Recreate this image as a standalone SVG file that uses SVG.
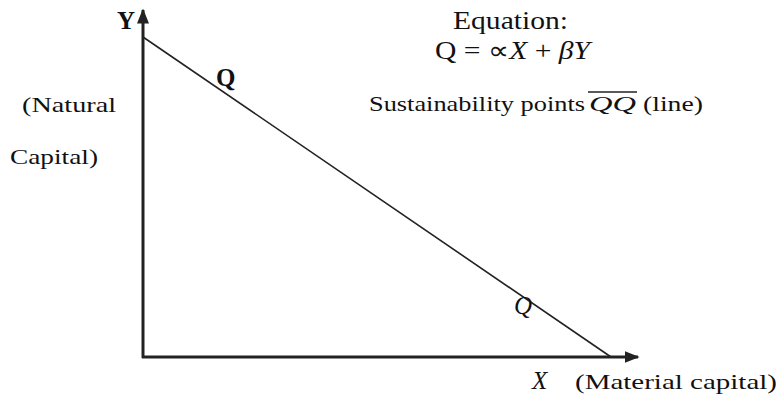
<svg xmlns="http://www.w3.org/2000/svg" width="778" height="400" viewBox="0 0 778 400">
<style>
text{font-family:"Liberation Serif","Times New Roman",serif;font-size:22px;fill:#111}
.it{font-style:italic}
.big{font-size:25px}
.ax{stroke:#222;stroke-width:3;fill:none}
.ln{stroke:#222;stroke-width:1.6;fill:none}
</style>
<defs>
<marker id="ah" viewBox="0 0 10 10" refX="9" refY="5" markerWidth="5" markerHeight="5" orient="auto" markerUnits="strokeWidth">
<path d="M0,1 L10,5 L0,9 Z" fill="#222"/>
</marker>
</defs>
<rect width="778" height="400" fill="#fff"/>
<g id="connectors">
<line class="ax" x1="143" y1="358" x2="143" y2="10" marker-end="url(#ah)"/>
<line class="ax" x1="142" y1="357" x2="638" y2="357" marker-end="url(#ah)"/>
<line class="ln" x1="143" y1="37" x2="611" y2="357"/>
</g>
<g id="labels">
<text x="117" y="29" font-weight="bold" class="big">Y</text>
<text x="216" y="86" font-weight="bold" class="big">Q</text>
<text x="514" y="314" class="it big">Q</text>
<text x="22" y="112" textLength="94" lengthAdjust="spacingAndGlyphs">(Natural</text>
<text x="10" y="164" textLength="88" lengthAdjust="spacingAndGlyphs">Capital)</text>
<text x="532" y="389" class="it big">X</text>
<text x="575" y="389" textLength="202" lengthAdjust="spacingAndGlyphs">(Material capital)</text>
<text x="453" y="29" class="big" textLength="115" lengthAdjust="spacingAndGlyphs">Equation:</text>
<text x="435" y="59" class="big" textLength="155" lengthAdjust="spacingAndGlyphs">Q = <tspan>∝</tspan><tspan class="it">X</tspan> + <tspan class="it">βY</tspan></text>
<text x="369" y="111" textLength="216" lengthAdjust="spacingAndGlyphs">Sustainability points</text>
<text x="589" y="111" class="it" textLength="47" lengthAdjust="spacingAndGlyphs">QQ</text>
<line x1="588" y1="92" x2="637" y2="92" stroke="#222" stroke-width="1.3"/>
<text x="643" y="111" textLength="60" lengthAdjust="spacingAndGlyphs">(line)</text>
</g>
</svg>
